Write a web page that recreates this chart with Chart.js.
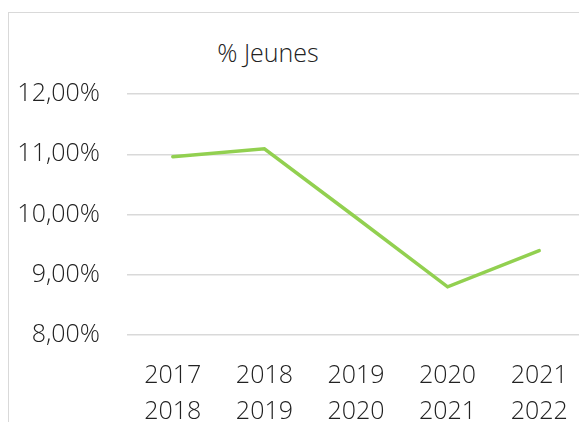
<!DOCTYPE html>
<html>
<head>
<meta charset="utf-8">
<script src="https://cdn.jsdelivr.net/npm/chart.js@4/dist/chart.umd.min.js"></script>
<style>
  html, body { margin: 0; padding: 0; background: #fff; overflow: hidden; width: 579px; height: 422px; }
  #frame { position: absolute; left: 8px; top: 12px; width: 700px; height: 500px;
           border-left: 1px solid #d9d9d9; border-top: 1px solid #d9d9d9; }
  #title { position: absolute; top: 35px; left: 168px; width: 200px; text-align: center;
           font-family: "Open Sans", sans-serif; font-weight: 300; font-size: 25px; color: #222; }
  #c { position: absolute; left: 0; top: 0; }
</style>
</head>
<body>
<div id="frame"></div>
<div id="title"></div>
<canvas id="c" width="600" height="422"></canvas>
<script>
const chartTitle = "% Jeunes";
const categories = [["2017", "2018"], ["2018", "2019"], ["2019", "2020"], ["2020", "2021"], ["2021", "2022"]];
const jeunes = [10.96, 11.09, 9.95, 8.80, 9.40];
const yTicks = [8, 9, 10, 11, 12];

document.getElementById('title').textContent = chartTitle;

const font = { family: '"Open Sans", sans-serif', size: 25, weight: '300' };

new Chart(document.getElementById('c'), {
  type: 'line',
  data: {
    labels: categories,
    datasets: [{
      label: chartTitle,
      data: jeunes,
      borderColor: '#92D050',
      backgroundColor: '#92D050',
      borderWidth: 3.5,
      borderCapStyle: 'round',
      borderJoinStyle: 'miter',
      pointRadius: 0,
      tension: 0,
      clip: false
    }]
  },
  options: {
    responsive: false,
    animation: false,
    layout: { padding: { top: 94, right: 15, left: 0, bottom: 0 } },
    plugins: { legend: { display: false }, title: { display: false }, tooltip: { enabled: false } },
    scales: {
      x: {
        offset: true,
        grid: { display: false, drawTicks: false, offset: true },
        border: { display: false },
        ticks: { color: '#222', font: Object.assign({}, font, { lineHeight: '36px' }), padding: 23, maxRotation: 0, autoSkip: false },
        afterFit: s => { s.height = 87; }
      },
      y: {
        min: 8, max: 12,
        afterBuildTicks: s => { s.ticks = yTicks.map(v => ({ value: v })); },
        grid: { color: '#d9d9d9', lineWidth: 1.5, drawTicks: false },
        border: { display: false },
        ticks: {
          color: '#222', font: font, padding: 27,
          callback: v => v.toFixed(2).replace('.', ',') + '%'
        },
        afterFit: s => { s.width = 127; }
      }
    }
  }
});
</script>
</body>
</html>
